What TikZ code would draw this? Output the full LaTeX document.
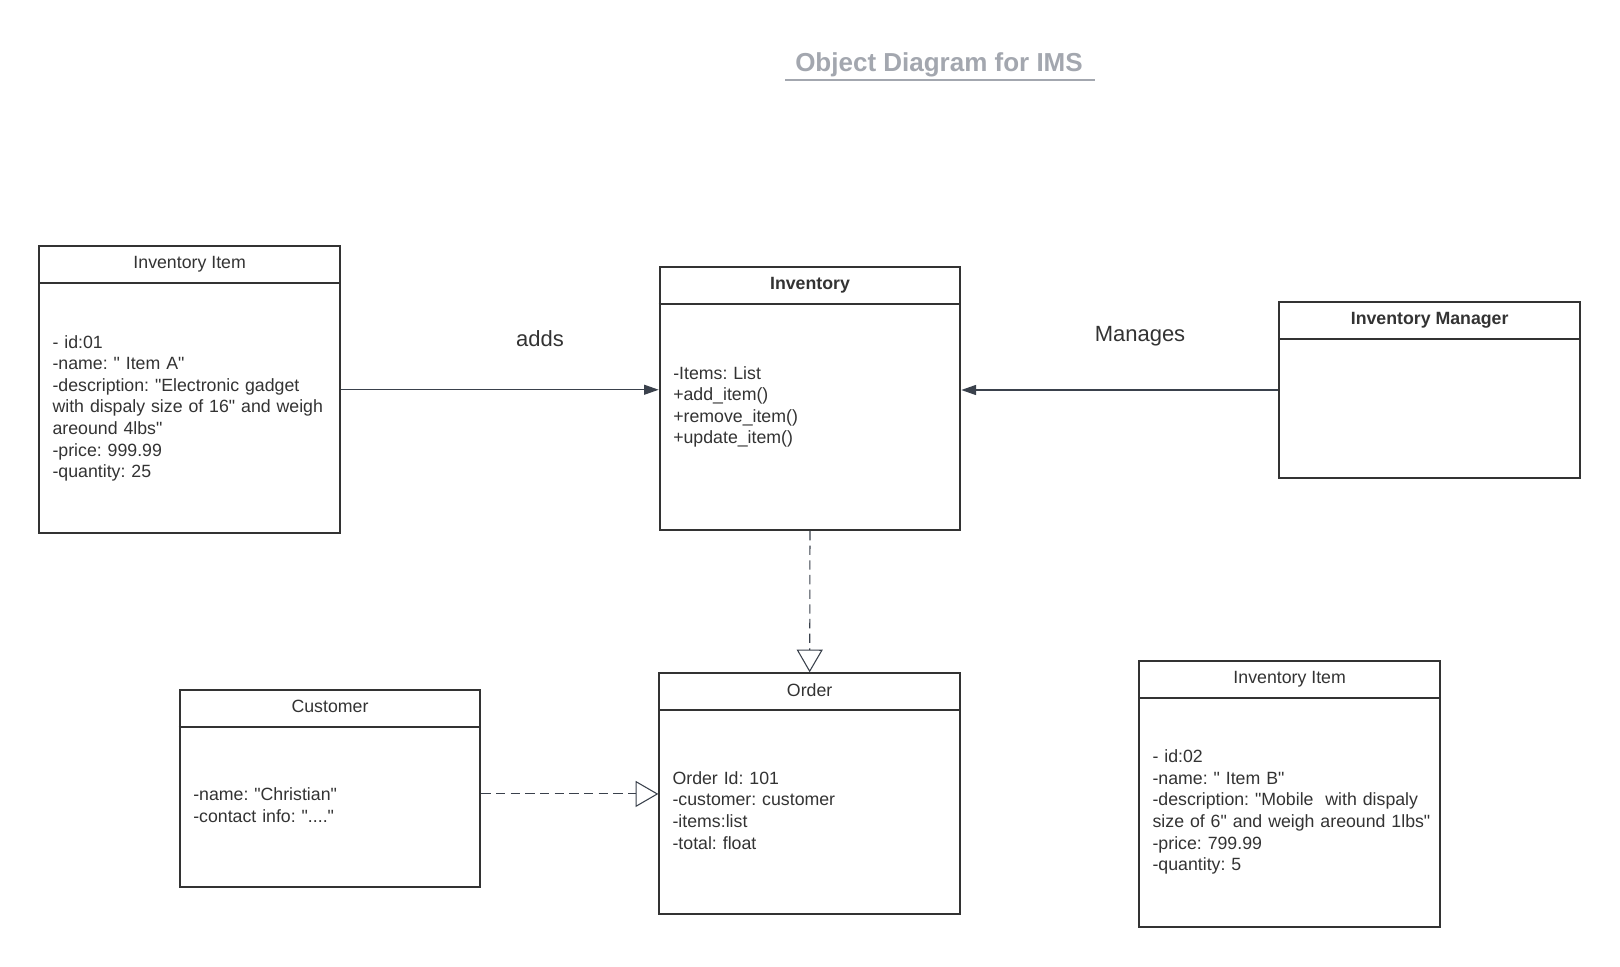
\documentclass[tikz,border=0pt]{standalone}
\usepackage{fontspec}
\setmainfont{Liberation Sans}[Ligatures=TeXOff]
\frenchspacing
\usetikzlibrary{arrows.meta,calc}
\definecolor{txtc}{HTML}{333333}
\definecolor{boxc}{HTML}{333333}
\definecolor{linec}{HTML}{3A414C}
\definecolor{titlec}{HTML}{A3A7AF}
\tikzset{
  umlbox/.style={draw=boxc, line width=1.5pt, minimum width=225.5pt, inner sep=0pt},
  boxline/.style={draw=boxc, line width=1.5pt},
  hdr/.style={font=\fontsize{13.3pt}{16.2pt}\selectfont, text=txtc, anchor=base, inner sep=0pt},
  hdrb/.style={hdr, font=\fontsize{13.3pt}{16.2pt}\selectfont\bfseries},
  bodytxt/.style={font=\fontsize{13.3pt}{16.2pt}\selectfont, text=txtc, anchor=base west, inner sep=0pt, text width=230pt, align=left},
  lbl/.style={font=\fontsize{16.5pt}{20pt}\selectfont, text=txtc, anchor=base, inner sep=0pt},
  assoc/.style={draw=linec, line width=0.9pt, -{Triangle[length=11pt,width=7.5pt]}},
  realize/.style={draw=linec, line width=0.8pt, dash pattern=on 7pt off 4pt, -{Triangle[open,length=17pt,width=19.5pt,fill=white]}},
}
\begin{document}
\begin{tikzpicture}[x=0.75pt,y=-0.75pt]
\fill[white] (0,0) rectangle (1620,967);
\useasboundingbox (0,0) rectangle (1620,967);

% title
\node[font=\fontsize{19.5pt}{23pt}\selectfont\bfseries, text=titlec, anchor=base, inner sep=0pt] (title) at (939,71.7) {Object Diagram for IMS};
\coordinate (ul1) at (785,80);
\coordinate (ul2) at (1095,80);
\draw[titlec, line width=1.4pt] (ul1) -- (ul2);

% boxes
\node[umlbox, minimum height=215.6pt] (A) at (189.65,389.75) {};
\node[umlbox, minimum height=197pt] (Inv) at (810,398.65) {};
\node[umlbox, minimum height=132.45pt] (Mgr) at (1429.65,390) {};
\node[umlbox, minimum height=180.5pt] (Ord) at (809.65,793.65) {};
\node[umlbox, minimum height=147.5pt] (Cust) at (330,788.35) {};
\node[umlbox, minimum height=199.3pt] (B) at (1289.65,793.85) {};

% header separators
\foreach \b in {A,Inv,Mgr,Ord,Cust,B}{
  \draw[boxline] ([yshift=-28.6pt]\b.north west) -- ([yshift=-28.6pt]\b.north east);
}

% headers
\node[hdr] (Ah) at ($(A.north)+(0,23.5)$) {Inventory Item};
\node[hdrb] (Invh) at ($(Inv.north)+(0,23.5)$) {Inventory};
\node[hdrb] (Mgrh) at ($(Mgr.north)+(0,23.5)$) {Inventory Manager};
\node[hdr] (Ordh) at ($(Ord.north)+(0,23.8)$) {Order};
\node[hdr] (Custh) at ($(Cust.north)+(0,23.5)$) {Customer};
\node[hdr] (Bh) at ($(B.north)+(0,23.5)$) {Inventory Item};

% bodies
\node[bodytxt] (At) at (52.3,348) {- id:01\\-name: " Item A"\\-description: "Electronic gadget\\with dispaly size of 16" and weigh\\areound 4lbs"\\-price: 999.99\\-quantity: 25};
\node[bodytxt] (Invt) at (673,379) {-Items: List\\+add\_item()\\+remove\_item()\\+update\_item()};
\node[bodytxt] (Ordt) at (672.3,784.3) {Order Id: 101\\-customer: customer\\-items:list\\-total: float};
\node[bodytxt] (Custt) at (193,800.5) {-name: "Christian"\\-contact info: "...."};
\node[bodytxt] (Bt) at (1152.3,762.7) {- id:02\\-name: " Item B"\\-description: "Mobile~ with dispaly\\size of 6" and weigh areound 1lbs"\\-price: 799.99\\-quantity: 5};

% labels
\node[lbl] (adds) at (540,346) {adds};
\node[lbl] (manages) at (1140,341.7) {Manages};

% connectors
\draw[assoc] (A.east) -- (A.east -| Inv.west);
\draw[assoc] (Mgr.west) -- (Mgr.west -| Inv.east);
\draw[realize] (Inv.south) -- (Ord.north);
\coordinate (custport) at ([yshift=-4.2pt]Cust.east);
\draw[realize] (custport) -- (custport -| Ord.west);
\end{tikzpicture}
\end{document}
